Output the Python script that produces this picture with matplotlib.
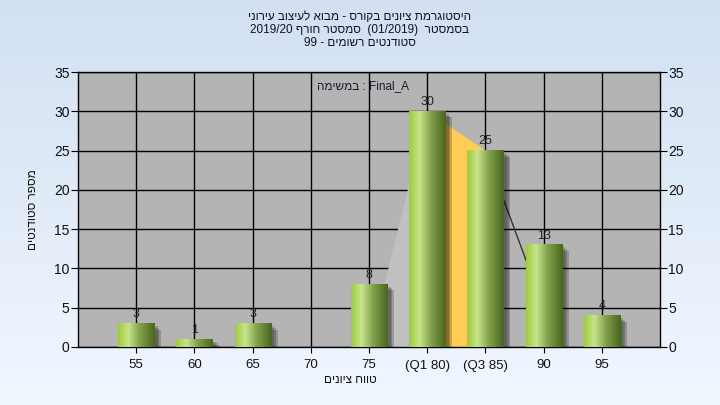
import numpy as np
import matplotlib
matplotlib.use('Agg')
import matplotlib.pyplot as plt
from matplotlib.colors import LinearSegmentedColormap
from matplotlib.patches import Rectangle

plt.rcParams['font.family'] = ['Liberation Sans', 'DejaVu Sans']

# Donnees
categories = ['55', '60', '65', '70', '75', '(Q1 80)', '(Q3 85)', '90', '95']
counts = [3, 1, 3, 0, 8, 30, 25, 13, 4]
value_labels = ['3', '1', '3', '', '8', '30', '25', '13', '4']

# forme "boite" derriere les barres (position, valeur)
shape_x = [4, 5, 6, 7.25]
shape_y = [0, 30, 25, 0]


def rev(s):
    # matplotlib ne fait pas de bidi : on inverse les mots hebreux
    return s[::-1]


# textes en ordre visuel (gauche -> droite)
title_lines = [rev('היסטוגרמת ציונים בקורס - מבוא לעיצוב עירוני'),
               '2019/20 ' + rev('סמסטר חורף') + '  (01/2019)  ' + rev('בסמסטר'),
               '99 - ' + rev('סטודנטים רשומים')]
ylabel_txt = rev('מספר סטודנטים')
xlabel_txt = rev('טווח ציונים')
task_txt = rev('במשימה') + ' : Final_A'

fig = plt.figure(figsize=(7.2, 4.05), dpi=100)

# fond en degrade
bg = fig.add_axes([0, 0, 1, 1], zorder=-10)
grad = np.linspace(0, 1, 256).reshape(-1, 1)
bg_cmap = LinearSegmentedColormap.from_list('bg', [(210/255, 224/255, 242/255), (241/255, 247/255, 255/255)])
bg.imshow(grad, aspect='auto', cmap=bg_cmap, extent=[0, 1, 0, 1], origin='upper')
bg.axis('off')

ax = fig.add_axes([78/720, 58/405, 582/720, 275/405])
ax.set_facecolor('#b4b4b4')
x = np.arange(len(categories))

# forme grise + orange + ligne
ax.fill([shape_x[0], shape_x[1], shape_x[1]], [shape_y[0], shape_y[1], 0], color='#c0c0c0', zorder=2, lw=0)
ax.fill([shape_x[1], shape_x[2], shape_x[2], shape_x[1]], [shape_y[1], shape_y[2], 0, 0], color='#ffcc55', zorder=2, lw=0)
ax.plot(shape_x[2:], shape_y[2:], color='#333333', lw=1, zorder=2)

bar_cmap = LinearSegmentedColormap.from_list('bar', [
    (0.0, (158/255, 204/255, 58/255)),
    (0.28, (200/255, 228/255, 140/255)),
    (0.6, (130/255, 160/255, 75/255)),
    (1.0, (72/255, 102/255, 28/255))])
hgrad = np.linspace(0, 1, 128).reshape(1, -1)
w = 0.62
for i, c in enumerate(counts):
    if c <= 0:
        continue
    # ombre
    for k, a in enumerate([0.18, 0.18, 0.2]):
        d = 0.03 * k
        ax.add_patch(Rectangle((x[i] - w/2 + 0.06 + d, -1), w, c + 1 - 0.3 - d * 8,
                               color='black', alpha=a, lw=0, zorder=2.5))
    ax.imshow(hgrad, cmap=bar_cmap, aspect='auto', extent=[x[i] - w/2, x[i] + w/2, 0, c], zorder=3)
    ax.text(x[i], c + 0.4, value_labels[i], ha='center', va='bottom', fontsize=9, color='#222222', zorder=4)

ax.set_xlim(-1, 9)
ax.set_ylim(0, 35)
ax.set_xticks(x)
ax.set_xticklabels(categories, fontsize=9.5, color='#111111')
ax.set_yticks(np.arange(0, 36, 5))
ax.tick_params(axis='y', labelsize=10, length=5, color='black', labelcolor='#111111', right=True, labelright=True, pad=1)
ax.tick_params(axis='x', length=4, pad=5)
ax.grid(True, color='black', lw=1)
ax.set_axisbelow(True)
for s in ax.spines.values():
    s.set_color('black')
    s.set_linewidth(1)

ax.text(0.49, 0.95, task_txt, transform=ax.transAxes, ha='center', va='center', fontsize=8.5, color='#1a1a2a', zorder=5)

# titres
ys = [17, 30, 43]
for t, yy in zip(title_lines, ys):
    fig.text(360/720, 1 - yy/405, t, ha='center', va='center', fontsize=8.5, color='#111122')
fig.text(33/720, 1 - 210/405, ylabel_txt, rotation=90, ha='center', va='center', fontsize=8.5, color='#111111')
fig.text(350/720, 1 - 380/405, xlabel_txt, ha='center', va='center', fontsize=8.5, color='#111111')

fig.savefig('out.png', dpi=100)
